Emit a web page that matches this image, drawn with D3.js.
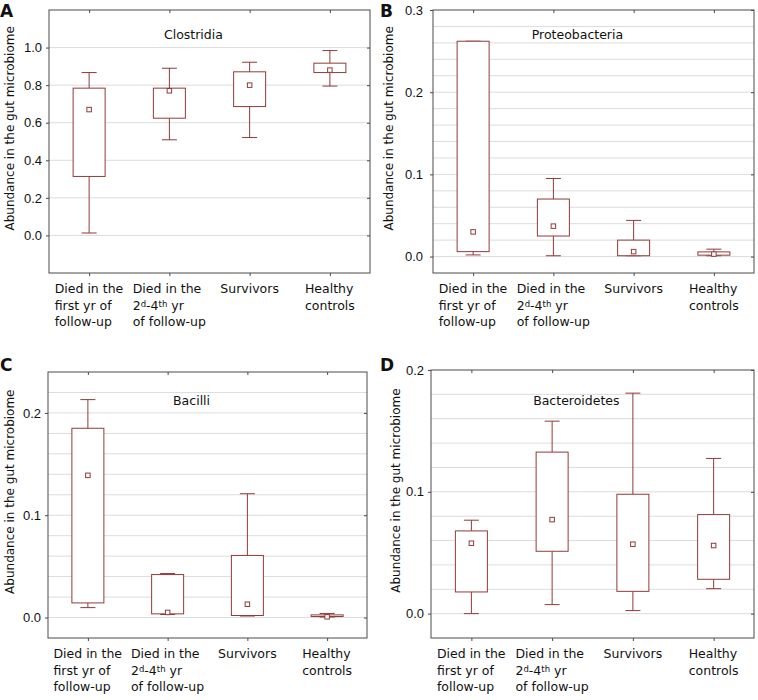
<!DOCTYPE html>
<html>
<head>
<meta charset="utf-8">
<script src="https://cdn.jsdelivr.net/npm/d3@7"></script>
<style>
  body { margin: 0; background: #fff; }
  svg { display: block; font-family: 'DejaVu Sans', Verdana, sans-serif; }
</style>
</head>
<body>
<div id="chart"></div>
<script>
// groups (^ marks a superscript run)
const categories = ['Died1', 'Died2', 'Survivors', 'Healthy']
const categoryLines = [
  ['Died in the', 'first yr of', 'follow-up'],
  ['Died in the', '2^d-4^th yr', 'of follow-up'],
  ['Survivors'],
  ['Healthy', 'controls'],
]

// [lower whisker, q1, q3, upper whisker, mean] per group
const clostridia = [
  [0.013, 0.314, 0.784, 0.867, 0.67],
  [0.509, 0.624, 0.784, 0.890, 0.77],
  [0.521, 0.686, 0.871, 0.922, 0.80],
  [0.795, 0.867, 0.917, 0.984, 0.88],
]
const proteobacteria = [
  [0.002, 0.006, 0.262, 0.262, 0.030],
  [0.001, 0.025, 0.070, 0.095, 0.037],
  [0.001, 0.001, 0.020, 0.044, 0.006],
  [0.001, 0.0017, 0.0057, 0.009, 0.003],
]
const bacilli = [
  [0.0097, 0.0143, 0.185, 0.213, 0.139],
  [0.003, 0.0036, 0.042, 0.043, 0.005],
  [0.0015, 0.002, 0.0607, 0.121, 0.013],
  [0.0005, 0.001, 0.0026, 0.004, 0.0007],
]
const bacteroidetes = [
  [0.000, 0.0178, 0.0679, 0.0767, 0.0578],
  [0.0074, 0.0512, 0.1326, 0.158, 0.0772],
  [0.0025, 0.0183, 0.098, 0.181, 0.057],
  [0.0205, 0.0282, 0.0813, 0.1274, 0.0559],
]

const ticksA = [0.0, 0.2, 0.4, 0.6, 0.8, 1.0]
const ticksB = [0.0, 0.1, 0.2, 0.3]
const ticksC = [0.0, 0.1, 0.2]
const ticksD = [0.0, 0.1, 0.2]

const BOX = '#8e3b3b'
const FRAME = '#4a4a4a'
const GRID = '#dcdcdc'

const panels = [
  { letter: 'A', title: 'Clostridia', stats: clostridia, domain: [-0.2, 1.2], ticks: ticksA, grid: 0.2,
    frame: { x: 49, y: 10, w: 321, h: 263 }, lx: 10, letterPos: [0, 17], titleY: 39, labelGap: 5 },
  { letter: 'B', title: 'Proteobacteria', stats: proteobacteria, domain: [-0.02, 0.3], ticks: ticksB, grid: 0.02,
    frame: { x: 433, y: 10, w: 321, h: 263 }, lx: 389, letterPos: [380, 17], titleY: 39, labelGap: 8 },
  { letter: 'C', title: 'Bacilli', stats: bacilli, domain: [-0.02, 0.24], ticks: ticksC, grid: 0.02,
    frame: { x: 48, y: 372, w: 319, h: 266 }, lx: 10, letterPos: [0, 371], titleY: 405, labelGap: 5 },
  { letter: 'D', title: 'Bacteroidetes', stats: bacteroidetes, domain: [-0.02, 0.2], ticks: ticksD, grid: 0.02,
    frame: { x: 431, y: 370, w: 323, h: 268 }, lx: 396, letterPos: [380, 371], titleY: 405, labelGap: 5 },
]

const svg = d3.select('#chart').append('svg')
  .attr('width', 758).attr('height', 700)

panels.forEach(p => drawPanel(p))

function drawPanel(p) {
  const f = p.frame
  const g = svg.append('g').attr('transform', `translate(${f.x},${f.y})`)

  const x = d3.scalePoint().domain(categories).range([0, f.w]).padding(0.5)
  const y = d3.scaleLinear().domain(p.domain).range([f.h, 0])

  // ── gridlines ────────────────────────────────────────────────
  const gridVals = d3.range(0, Math.round((p.domain[1] - p.domain[0]) / p.grid) + 1)
    .map(i => +(p.domain[0] + i * p.grid).toFixed(4))
    .filter(v => v > p.domain[0] + 1e-6 && v < p.domain[1] - 1e-6)
  g.append('g').selectAll('line').data(gridVals).join('line')
    .attr('x1', 0).attr('x2', f.w)
    .attr('y1', d => y(d)).attr('y2', d => y(d))
    .attr('stroke', GRID).attr('stroke-width', 1)

  // ── axes ticks ───────────────────────────────────────────────
  const yl = g.append('g').call(d3.axisLeft(y).tickValues(p.ticks).tickSizeInner(3).tickSizeOuter(0)
    .tickPadding(p.labelGap - 3 + 2).tickFormat(d3.format('.1f')))
  yl.select('.domain').remove()
  yl.selectAll('line').attr('stroke', FRAME)
  yl.selectAll('text').attr('fill', '#111').style('font-size', '13px').style('font-family', null)

  const yr = g.append('g').attr('transform', `translate(${f.w},0)`)
    .call(d3.axisRight(y).tickValues(p.ticks).tickSizeInner(-3).tickSizeOuter(0).tickFormat(''))
  yr.select('.domain').remove()
  yr.selectAll('line').attr('stroke', FRAME)

  const xb = g.append('g').attr('transform', `translate(0,${f.h})`)
    .call(d3.axisBottom(x).tickSizeInner(3).tickSizeOuter(0).tickFormat(''))
  xb.select('.domain').remove()
  xb.selectAll('line').attr('stroke', FRAME)

  const xt = g.append('g')
    .call(d3.axisTop(x).tickSizeInner(-3).tickSizeOuter(0).tickFormat(''))
  xt.select('.domain').remove()
  xt.selectAll('line').attr('stroke', FRAME)

  // ── boxes ────────────────────────────────────────────────────
  const boxW = 32, capW = 15, meanS = 4.5
  const rows = p.stats.map((s, i) => ({ cat: categories[i], lo: s[0], q1: s[1], q3: s[2], hi: s[3], mean: s[4] }))
  const bg = g.append('g').selectAll('g').data(rows).join('g')
    .attr('transform', d => `translate(${x(d.cat)},0)`)

  bg.append('line')
    .attr('y1', d => y(d.q3)).attr('y2', d => y(d.hi))
    .attr('stroke', BOX)
  bg.append('line')
    .attr('y1', d => y(d.q1)).attr('y2', d => y(d.lo))
    .attr('stroke', BOX)
  bg.append('line')
    .attr('x1', -capW / 2).attr('x2', capW / 2)
    .attr('y1', d => y(d.hi)).attr('y2', d => y(d.hi))
    .attr('stroke', BOX)
  bg.append('line')
    .attr('x1', -capW / 2).attr('x2', capW / 2)
    .attr('y1', d => y(d.lo)).attr('y2', d => y(d.lo))
    .attr('stroke', BOX)
  bg.append('rect')
    .attr('x', -boxW / 2).attr('width', boxW)
    .attr('y', d => y(d.q3)).attr('height', d => Math.max(1, y(d.q1) - y(d.q3)))
    .attr('fill', '#fff').attr('stroke', BOX)
  bg.append('rect')
    .attr('x', -meanS / 2).attr('width', meanS)
    .attr('y', d => y(d.mean) - meanS / 2).attr('height', meanS)
    .attr('fill', '#fff').attr('stroke', BOX)

  // frame
  g.append('rect').attr('width', f.w).attr('height', f.h)
    .attr('fill', 'none').attr('stroke', FRAME).attr('stroke-width', 1)

  // title
  svg.append('text')
    .attr('x', f.x + f.w * 0.45).attr('y', p.titleY)
    .attr('text-anchor', 'middle')
    .style('font-size', '12.5px').attr('fill', '#111')
    .text(p.title)

  // y label
  svg.append('text')
    .attr('transform', `translate(${p.lx},${f.y + f.h * 0.45}) rotate(-90)`)
    .attr('text-anchor', 'middle').attr('dominant-baseline', 'central')
    .style('font-size', '12px').attr('fill', '#111')
    .text('Abundance in the gut microbiome')

  // panel letter
  svg.append('text')
    .attr('x', p.letterPos[0]).attr('y', p.letterPos[1])
    .style('font-size', '17px').style('font-weight', 'bold').attr('fill', '#111')
    .text(p.letter)

  // category labels (left-aligned block, centred under the group)
  categoryLines.forEach((lines, i) => {
    const t = svg.append('text')
      .attr('y', f.y + f.h + 20)
      .style('font-size', '12.5px').attr('fill', '#111')
    lines.forEach((line, li) => {
      const parts = line.split(/\^(\w+)/)
      parts.forEach((part, pi) => {
        if (!part) return
        const sup = pi % 2 === 1
        const ts = t.append('tspan').text(part)
        if (pi === 0 || (pi === 1 && !parts[0])) ts.attr('x', 0).attr('dy', li === 0 ? 0 : 16.5)
        if (sup) ts.attr('baseline-shift', '35%').style('font-size', '8.5px')
      })
    })
    const bw = t.node().getBBox().width
    t.attr('transform', `translate(${f.x + x(categories[i]) - bw / 2},0)`)
  })
}
</script>
</body>
</html>
